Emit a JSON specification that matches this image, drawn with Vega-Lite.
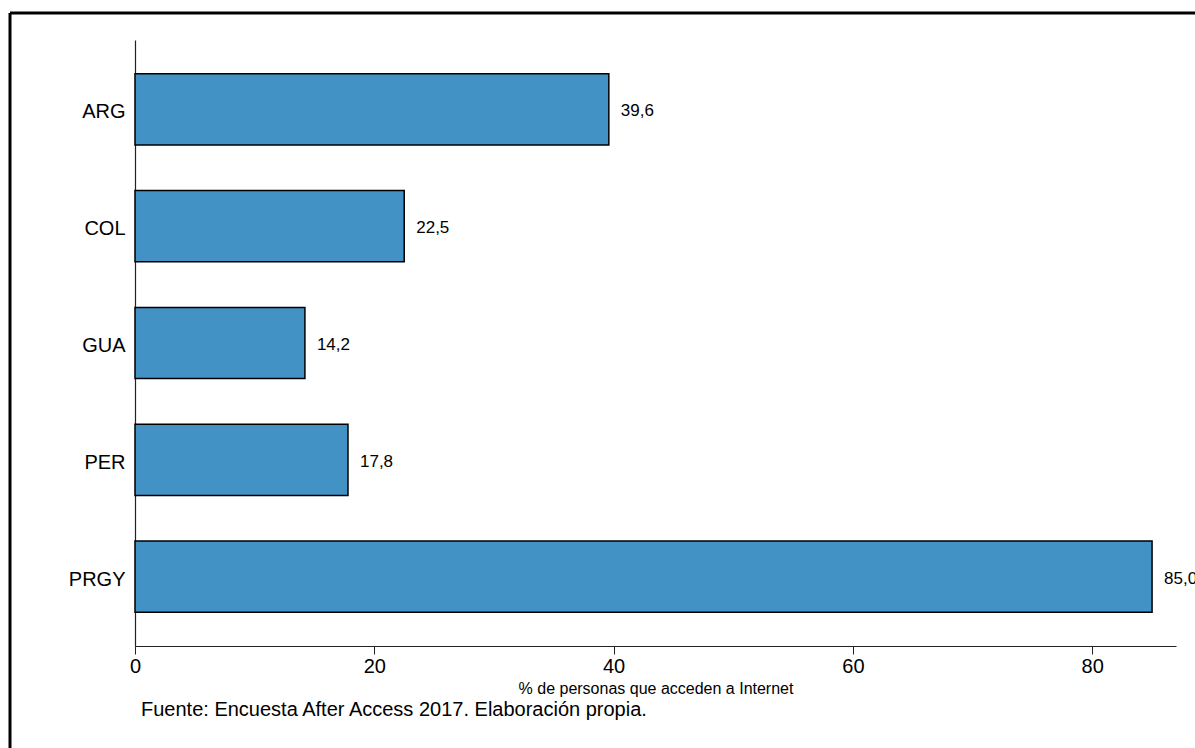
{
  "$schema": "https://vega.github.io/schema/vega-lite/v6.json",
  "width": 1185,
  "height": 735,
  "autosize": {"type": "none"},
  "padding": {"left": 10, "top": 13, "right": 0, "bottom": 0},
  "background": "white",
  "config": {
    "font": "Liberation Sans",
    "view": {"stroke": "black", "strokeWidth": 3, "strokeDash": [1185, 1920, 735, 0]},
    "axis": {"grid": false, "domainColor": "#222222", "domainWidth": 1.2, "tickColor": "#222222", "labelColor": "black", "titleColor": "black"}
  },
  "title": {
    "text": "Fuente: Encuesta After Access 2017. Elaboración propia.",
    "orient": "bottom",
    "anchor": "start",
    "frame": "group",
    "offset": -48,
    "dx": 131,
    "fontSize": 20,
    "fontWeight": "normal",
    "baseline": "top",
    "color": "black"
  },
  "data": {
    "values": [
      {"country": "ARG", "value": 39.6, "label": "39,6"},
      {"country": "COL", "value": 22.5, "label": "22,5"},
      {"country": "GUA", "value": 14.2, "label": "14,2"},
      {"country": "PER", "value": 17.8, "label": "17,8"},
      {"country": "PRGY", "value": 85.0, "label": "85,0"}
    ]
  },
  "encoding": {
    "y": {
      "field": "country",
      "type": "nominal",
      "sort": null,
      "scale": {"range": [27, 633], "paddingInner": 0.39, "paddingOuter": 0.29},
      "axis": {"title": null, "ticks": false, "labelFontSize": 20, "labelPadding": 10, "labelOffset": 3, "offset": -125}
    },
    "x": {
      "field": "value",
      "type": "quantitative",
      "scale": {"domain": [0, 87], "range": [125, 1166], "nice": false},
      "axis": {
        "values": [0, 20, 40, 60, 80],
        "offset": -102,
        "tickSize": 8,
        "labelFontSize": 20,
        "labelPadding": 2,
        "labelFlush": false,
        "title": "% de personas que acceden a Internet",
        "titleFontSize": 16,
        "titleFontWeight": "normal",
        "titlePadding": 4
      }
    }
  },
  "layer": [
    {"mark": {"type": "bar", "color": "#4292c6", "stroke": "black", "strokeWidth": 1.5}},
    {"mark": {"type": "text", "align": "left", "baseline": "middle", "dx": 12, "dy": 2, "fontSize": 17, "color": "black"}, "encoding": {"text": {"field": "label"}}}
  ]
}
